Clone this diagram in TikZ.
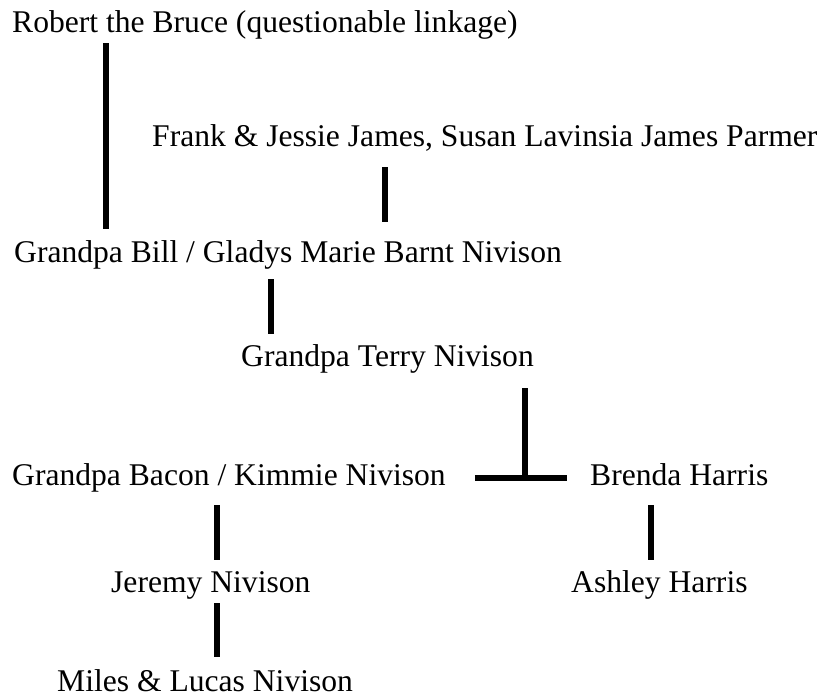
\documentclass[tikz,border=0pt]{standalone}
\usepackage{fontspec}
\setmainfont{Liberation Serif}
\usetikzlibrary{positioning}

\begin{document}
\begin{tikzpicture}[x=1pt, y=-1pt,
    person/.style={anchor=base west, inner sep=0pt, text height=21pt, text depth=7pt,
      font=\fontsize{31.6}{38}\selectfont},
    link/.style={line width=6pt}]
  \useasboundingbox (0,0) rectangle (831,697);

  % names, top to bottom
  \node[person] (bruce)  at (12,32)  {Robert the Bruce (questionable linkage)};
  \node[person] (james)  at (152,146) {Frank \& Jessie James, Susan Lavinsia James Parmer};
  \node[person] (bill)   at (14,262) {Grandpa Bill / Gladys Marie Barnt Nivison};
  \node[person] (terry)  at (241,366) {Grandpa Terry Nivison};
  \node[person] (bacon)  at (12,485) {Grandpa Bacon / Kimmie Nivison};
  \node[person] (brenda) at (590,485) {Brenda Harris};
  \node[person] (jeremy) at (111,592) {Jeremy Nivison};
  \node[person] (ashley) at (571,592) {Ashley Harris};
  \node[person] (miles)  at (57,691) {Miles \& Lucas Nivison};

  % columns of the lines
  \coordinate (colA) at (106.3,0);
  \coordinate (colB) at (385,0);
  \coordinate (colC) at (271,0);
  \coordinate (colD) at (525,0);
  \coordinate (colE) at (217,0);
  \coordinate (colF) at (651,0);

  % lines of descent
  \draw[link, shorten <=4pt, shorten >=12pt] (bruce.south -| colA) -- (bill.north -| colA);
  \draw[link, shorten <=14pt, shorten >=19pt] (james.south -| colB) -- (bill.north -| colB);
  \draw[link, shorten <=10pt, shorten >=11pt] (bill.south -| colC) -- (terry.north -| colC);
  \draw[link, shorten <=15pt] (terry.south -| colD) -- (bacon.east -| colD);
  \draw[link, shorten <=29pt, shorten >=23pt] (bacon.east) -- (brenda.west);
  \draw[link, shorten <=13pt, shorten >=11pt] (bacon.south -| colE) -- (jeremy.north -| colE);
  \draw[link, shorten <=13pt, shorten >=11pt] (brenda.south -| colF) -- (ashley.north -| colF);
  \draw[link, shorten <=4pt, shorten >=13pt] (jeremy.south -| colE) -- (miles.north -| colE);

\end{tikzpicture}
\end{document}
